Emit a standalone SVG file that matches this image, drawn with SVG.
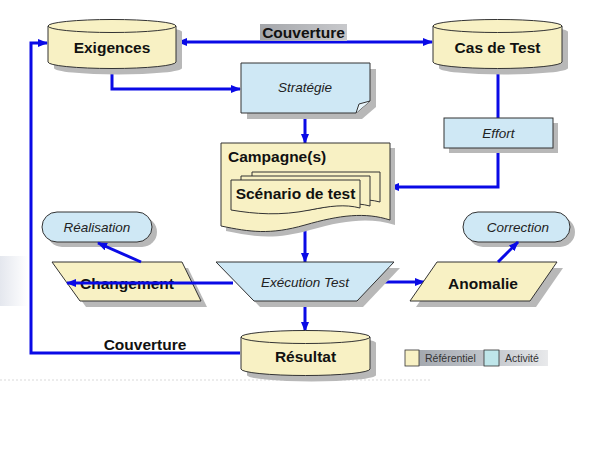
<svg xmlns="http://www.w3.org/2000/svg" width="597" height="469" viewBox="0 0 597 469">
<defs>
<style>
.ref{fill:#f8f1c4;stroke:#333;stroke-width:1}
.act{fill:#cfe8f5;stroke:#333;stroke-width:1}
.sh{fill:#b8b8b8}
.con{fill:none;stroke:#0a0ae6;stroke-width:3}
.b{font-family:"Liberation Sans",Arial,sans-serif;font-weight:bold;font-size:15.5px;fill:#111}
.i{font-family:"Liberation Sans",Arial,sans-serif;font-style:italic;font-size:13.5px;fill:#222}
.lg{font-family:"Liberation Sans",Arial,sans-serif;font-size:10.5px;fill:#333}
</style>
<marker id="ah" viewBox="0 0 10 8" refX="9" refY="4" markerWidth="10" markerHeight="8" markerUnits="userSpaceOnUse" orient="auto-start-reverse">
<path d="M0,0 L10,4 L0,8 z" fill="#0a0ae6"/>
</marker>
<linearGradient id="gcov" x1="0" y1="0" x2="1" y2="0">
<stop offset="0" stop-color="#a4a6aa"/><stop offset="1" stop-color="#c8c9cc"/>
</linearGradient>
<linearGradient id="glg" x1="0" y1="0" x2="1" y2="0">
<stop offset="0" stop-color="#9ea3aa"/><stop offset="0.6" stop-color="#c2c6cc"/><stop offset="1" stop-color="#e8e9eb"/>
</linearGradient>
<linearGradient id="gbg" x1="0" y1="0" x2="1" y2="0">
<stop offset="0" stop-color="#e4e7ee"/><stop offset="1" stop-color="#ffffff"/>
</linearGradient>
</defs>
<rect width="597" height="469" fill="#fff"/>
<rect x="0" y="256" width="28" height="50" fill="url(#gbg)"/>
<line x1="0" y1="380" x2="430" y2="380" stroke="#e6e6e6" stroke-width="1.5" stroke-dasharray="2,2"/>

<g id="connectors">
<path class="con" d="M432,42 H178" marker-start="url(#ah)" marker-end="url(#ah)"/>
<path class="con" d="M240,353 H31 V43 H47" marker-end="url(#ah)"/>
<path class="con" d="M112,68 V89 H240" marker-end="url(#ah)"/>
<path class="con" d="M305,113 V143" marker-end="url(#ah)"/>
<path class="con" d="M498,68 V118"/>
<path class="con" d="M498,148 V187 H390" marker-end="url(#ah)"/>
<path class="con" d="M305,228 V262" marker-end="url(#ah)"/>
<path class="con" d="M376,282 H424" marker-end="url(#ah)"/>
<path class="con" d="M305,301 V331" marker-end="url(#ah)"/>
</g>

<g id="couverture-top">
<rect x="260" y="24" width="87" height="17" fill="url(#gcov)"/>
<text class="b" x="303.5" y="38" text-anchor="middle">Couverture</text>
</g>

<g id="exigences">
<path class="sh" d="M54,32 V68 A64,6.5 0 0 0 182,68 V32 A64,6.5 0 0 0 54,32 Z"/>
<path class="ref" d="M48,26 V62 A64,6.5 0 0 0 176,62 V26 Z"/>
<ellipse class="ref" cx="112" cy="26" rx="64" ry="6.5"/>
<text class="b" x="112" y="53" text-anchor="middle">Exigences</text>
</g>

<g id="cas-de-test">
<path class="sh" d="M439,32 V68 A64.5,6.5 0 0 0 568,68 V32 A64.5,6.5 0 0 0 439,32 Z"/>
<path class="ref" d="M433,26 V62 A64.5,6.5 0 0 0 562,62 V26 Z"/>
<ellipse class="ref" cx="497.5" cy="26" rx="64.5" ry="6.5"/>
<text class="b" x="497.5" y="53" text-anchor="middle">Cas de Test</text>
</g>

<g id="strategie">
<path class="sh" d="M247,69 H376 V107 L362,119 H247 Z"/>
<path class="act" d="M241,63 H370 V101 L356,113 H241 Z"/>
<path fill="#e8f4fa" stroke="#333" stroke-width="1" d="M356,113 L359,104 L370,101"/>
<text class="i" x="305" y="92" text-anchor="middle">Stratégie</text>
</g>

<g id="effort">
<rect class="sh" x="449" y="123" width="109" height="30"/>
<rect class="act" x="444" y="118" width="109" height="30"/>
<text class="i" x="498.5" y="138" text-anchor="middle">Effort</text>
</g>

<g id="campagne">
<path class="sh" d="M226,148 H395 V225 C370,217 345,220 310,230 C275,240 255,237 226,231 Z"/>
<path class="ref" d="M221,143 H390 V220 C365,212 340,215 305,225 C270,235 250,232 221,226 Z"/>
<text class="b" x="228" y="162">Campagne(s)</text>
<path class="ref" d="M252,172 H380 V202 C365,198 350,200 330,204 C300,210 275,208 252,204 Z"/>
<path class="ref" d="M241,176 H370 V206 C355,202 340,204 320,208 C290,214 265,212 241,208 Z"/>
<path class="ref" d="M231,180 H360 V208 C345,204 330,206 310,210 C280,216 255,214 231,210 Z"/>
<text class="b" x="295.5" y="199" text-anchor="middle">Scénario de test</text>
</g>

<g id="execution">
<path class="sh" d="M222,268 H400 L363,307 H260 Z"/>
<path class="act" d="M216,262 H394 L357,301 H254 Z"/>
<text class="i" x="305" y="287" text-anchor="middle">Exécution Test</text>
</g>

<g id="changement">
<path class="sh" d="M58,268 H188 L207,307 H86 Z"/>
<path class="ref" d="M52,262 H182 L201,301 H80 Z"/>
<text class="b" x="127" y="289" text-anchor="middle">Changement</text>
</g>

<g id="realisation">
<rect class="sh" x="47" y="217" width="110" height="30" rx="15"/>
<rect class="act" x="42" y="212" width="110" height="30" rx="15"/>
<text class="i" x="97" y="232" text-anchor="middle">Réalisation</text>
</g>

<g id="anomalie">
<path class="sh" d="M443,268 H563 L536,307 H416 Z"/>
<path class="ref" d="M437,262 H557 L530,301 H410 Z"/>
<text class="b" x="483" y="289" text-anchor="middle">Anomalie</text>
</g>

<g id="correction">
<rect class="sh" x="468" y="217" width="107" height="30" rx="15"/>
<rect class="act" x="463" y="212" width="107" height="30" rx="15"/>
<text class="i" x="518" y="232" text-anchor="middle">Correction</text>
</g>

<g id="resultat">
<path class="sh" d="M247,343 V375 A64.5,6.5 0 0 0 376,375 V343 A64.5,6.5 0 0 0 247,343 Z"/>
<path class="ref" d="M241,337 V369 A64.5,6.5 0 0 0 370,369 V337 Z"/>
<ellipse class="ref" cx="305.5" cy="337" rx="64.5" ry="6.5"/>
<text class="b" x="305.5" y="362" text-anchor="middle">Résultat</text>
</g>

<g id="connectors-over">
<path class="con" d="M233,283 H67" marker-end="url(#ah)"/>
<path class="con" d="M141,262 L98,243" marker-end="url(#ah)"/>
<path class="con" d="M498,262 L518,242" marker-end="url(#ah)"/>
</g>

<g id="couverture-bottom">
<text class="b" x="145" y="350" text-anchor="middle">Couverture</text>
</g>

<g id="legende">
<rect x="405" y="350" width="143" height="16" fill="url(#glg)"/>
<rect x="405" y="350" width="14" height="16" fill="#f8f1c4" stroke="#333" stroke-width="0.8"/>
<text class="lg" x="425" y="362">Référentiel</text>
<rect x="484" y="350" width="15" height="16" fill="#bfe6ea" stroke="#333" stroke-width="0.8"/>
<text class="lg" x="505" y="362">Activité</text>
</g>
</svg>
